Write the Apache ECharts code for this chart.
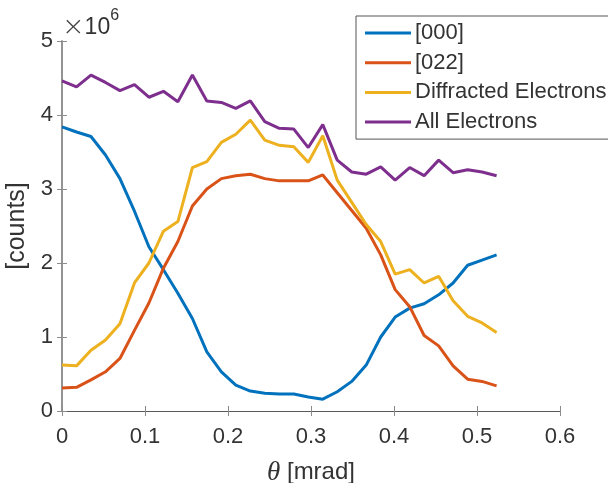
<!DOCTYPE html>
<html><head><meta charset="utf-8">
<script src="https://cdn.jsdelivr.net/npm/echarts@6/dist/echarts.min.js"></script>
<style>html,body{margin:0;padding:0;background:#fff}#c{width:608px;height:483px}</style>
</head><body><div id="c"></div>
<script>
const theta = [0, 0.0175, 0.0349, 0.0524, 0.0698, 0.0873, 0.1047, 0.1222, 0.1396, 0.1571, 0.1745, 0.1920, 0.2094, 0.2269, 0.2443, 0.2618, 0.2793, 0.2967, 0.3142, 0.3316, 0.3491, 0.3665, 0.3840, 0.4014, 0.4189, 0.4363, 0.4538, 0.4712, 0.4887, 0.5061, 0.5236];
const s000 = [3.84e6, 3.77e6, 3.71e6, 3.46e6, 3.14e6, 2.70e6, 2.22e6, 1.91e6, 1.59e6, 1.25e6, 0.80e6, 0.53e6, 0.35e6, 0.27e6, 0.24e6, 0.23e6, 0.23e6, 0.19e6, 0.16e6, 0.26e6, 0.40e6, 0.62e6, 1.00e6, 1.27e6, 1.39e6, 1.45e6, 1.57e6, 1.73e6, 1.97e6, 2.04e6, 2.11e6];
const s022 = [0.31e6, 0.32e6, 0.42e6, 0.53e6, 0.71e6, 1.09e6, 1.46e6, 1.93e6, 2.29e6, 2.77e6, 3.00e6, 3.14e6, 3.18e6, 3.20e6, 3.14e6, 3.11e6, 3.11e6, 3.11e6, 3.19e6, 2.95e6, 2.71e6, 2.47e6, 2.11e6, 1.64e6, 1.41e6, 1.02e6, 0.88e6, 0.61e6, 0.43e6, 0.40e6, 0.34e6];
const sDiff = [0.62e6, 0.61e6, 0.82e6, 0.96e6, 1.18e6, 1.73e6, 2.00e6, 2.43e6, 2.56e6, 3.29e6, 3.37e6, 3.63e6, 3.74e6, 3.93e6, 3.66e6, 3.59e6, 3.57e6, 3.36e6, 3.72e6, 3.12e6, 2.82e6, 2.52e6, 2.29e6, 1.85e6, 1.91e6, 1.73e6, 1.82e6, 1.49e6, 1.28e6, 1.19e6, 1.06e6];
const sAll = [4.46e6, 4.38e6, 4.54e6, 4.44e6, 4.33e6, 4.41e6, 4.24e6, 4.32e6, 4.18e6, 4.54e6, 4.19e6, 4.17e6, 4.09e6, 4.19e6, 3.91e6, 3.82e6, 3.81e6, 3.56e6, 3.87e6, 3.39e6, 3.23e6, 3.20e6, 3.30e6, 3.12e6, 3.29e6, 3.18e6, 3.39e6, 3.22e6, 3.26e6, 3.23e6, 3.18e6];
const seriesNames = ['[000]', '[022]', 'Diffracted Electrons', 'All Electrons'];
const seriesData = [s000, s022, sDiff, sAll];
const colors = ['#0072BD', '#D95319', '#EDB120', '#7E2F8E'];
const xTicks = {min: 0, max: 0.6, interval: 0.1};
const yTicks = {min: 0, max: 5e6, interval: 1e6};

const FONT = '"Liberation Sans", Arial, sans-serif';
const chart = echarts.init(document.getElementById('c'), null, {renderer: 'canvas'});
const hAxisLine = {show: true, lineStyle: {color: '#5a5a5a', width: 1}};
const vAxisLine = {show: true, lineStyle: {color: '#8c8c8c', width: 1.5}};
const tickIn = (c) => ({show: true, inside: true, length: 5, lineStyle: {color: c, width: 1}});
chart.setOption({
  animation: false,
  backgroundColor: '#fff',
  grid: {left: 62, right: 48, top: 41, bottom: 72, containLabel: false, outerBoundsMode: 'none'},
  xAxis: [{
    type: 'value', min: xTicks.min, max: xTicks.max, interval: xTicks.interval,
    position: 'bottom',
    axisLine: hAxisLine, axisTick: tickIn('#8c8c8c'), splitLine: {show: false},
    axisLabel: {color: '#333', fontSize: 22, fontFamily: FONT, margin: 15},
    name: '{t|θ} [mrad]', nameLocation: 'middle', nameGap: 48, nameMoveOverlap: false,
    nameTextStyle: {color: '#333', fontSize: 24, fontFamily: FONT,
      rich: {t: {fontFamily: '"Liberation Serif", "DejaVu Serif", serif', fontStyle: 'italic', fontSize: 27, color: '#333'}}}
  }, {
    type: 'value', min: xTicks.min, max: xTicks.max, interval: xTicks.interval,
    position: 'top',
    axisLine: hAxisLine, axisTick: tickIn('#8c8c8c'), axisLabel: {show: false}, splitLine: {show: false}
  }],
  yAxis: [{
    type: 'value', min: yTicks.min, max: yTicks.max, interval: yTicks.interval,
    position: 'left',
    axisLine: vAxisLine, axisTick: tickIn('#8c8c8c'), splitLine: {show: false},
    axisLabel: {color: '#333', fontSize: 22, fontFamily: FONT, margin: 9, formatter: v => String(v / 1e6)},
    name: '[counts]', nameLocation: 'middle', nameGap: 32, nameMoveOverlap: false,
    nameTextStyle: {color: '#333', fontSize: 25, fontFamily: FONT}
  }, {
    type: 'value', min: yTicks.min, max: yTicks.max, interval: yTicks.interval,
    position: 'right',
    axisLine: vAxisLine, axisTick: tickIn('#8c8c8c'), axisLabel: {show: false}, splitLine: {show: false}
  }],
  legend: {
    orient: 'vertical', left: 356, top: 16,
    padding: [5, 12, 5, 9], itemGap: 5.7,
    itemWidth: 46, itemHeight: 3, icon: 'rect',
    backgroundColor: '#fff', borderColor: '#555', borderWidth: 1, borderRadius: 0,
    textStyle: {color: '#333', fontSize: 22, fontFamily: FONT, lineHeight: 24, padding: [0, 0, 0, -1]},
    data: seriesNames
  },
  graphic: [{
    type: 'text', left: 62, top: 8, z: 100,
    style: {
      text: '{x|×}{b|10}{s|6}',
      rich: {
        x: {fontSize: 27, fontFamily: '"DejaVu Sans", sans-serif', fontWeight: 'lighter', fill: '#444', padding: [6, 0, 0, 0]},
        b: {fontSize: 23, fontFamily: FONT, fill: '#333', padding: [6, 0, 0, 0]},
        s: {fontSize: 16, fontFamily: FONT, fill: '#333', verticalAlign: 'top', padding: [0, 0, 12, 0]}
      }
    }
  }],
  series: seriesNames.map((n, k) => ({
    name: n, type: 'line', xAxisIndex: 0, yAxisIndex: 0,
    data: theta.map((t, i) => [t, seriesData[k][i]]),
    showSymbol: false, symbol: 'none',
    lineStyle: {color: colors[k], width: 3},
    itemStyle: {color: colors[k]},
    z: 2 + k
  }))
});
</script></body></html>
